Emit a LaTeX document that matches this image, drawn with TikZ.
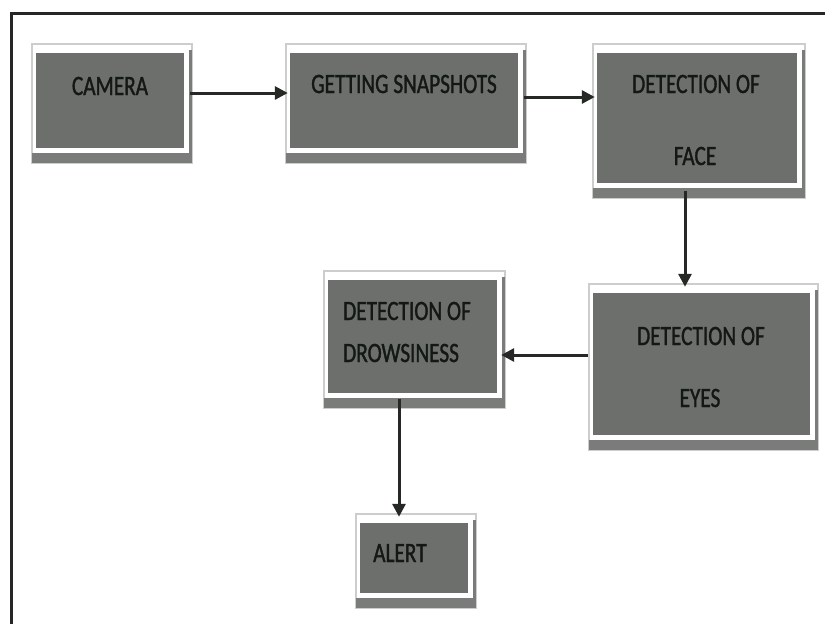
\documentclass[tikz,border=0pt]{standalone}
\usepackage{fontspec}
\usetikzlibrary{arrows.meta}
\newfontfamily\labelfont{Carlito}[FakeStretch=0.76,FakeBold=1.2]
\definecolor{boxgray}{HTML}{6C6F6C}
\definecolor{shadowgray}{HTML}{7A7C7A}
\definecolor{framegray}{HTML}{CDCDCD}
\definecolor{inkdark}{HTML}{141814}
\definecolor{arrowdark}{HTML}{262826}
\begin{document}
\begin{tikzpicture}[x=1pt,y=-1pt,
  stagebox/.style={draw=none, fill=boxgray, inner sep=0pt, rectangle},
  stagetext/.style={inner sep=0pt, text=inkdark, font=\labelfont\fontsize{28}{28}\selectfont},
  flow/.style={draw=arrowdark, line width=3pt, -{Triangle[length=13pt,width=13pt]}},
  outline/.style={draw=framegray, line width=1.5pt},
  edge/.style={draw=black!85, line width=3pt}]
\useasboundingbox (0,0) rectangle (825,624);

% page frame: top and left rules
\draw[edge] (10,13) -- (825,13);
\draw[edge] (11,13) -- (11,624);

% process stages
\node[stagebox, minimum width=148pt, minimum height=95pt]  (cam)   at (110,100.5) {};
\node[stagebox, minimum width=228pt, minimum height=95pt]  (snap)  at (404,100.5) {};
\node[stagebox, minimum width=200pt, minimum height=130pt] (face)  at (697,118)   {};
\node[stagebox, minimum width=217pt, minimum height=142pt] (eyes)  at (701.5,364) {};
\node[stagebox, minimum width=169pt, minimum height=113pt] (drow)  at (412.5,336.5) {};
\node[stagebox, minimum width=108pt, minimum height=70pt]  (alert) at (414,558)   {};

% light outer frame and drop shadow round each stage
\foreach \n in {cam,snap,face,eyes,drow,alert}{
  \draw[outline] ([shift={(-4pt,9pt)}]\n.north west) rectangle ([shift={(8pt,-15pt)}]\n.south east);
  \fill[shadowgray] ([shift={(-4pt,-5pt)}]\n.south west) rectangle ([shift={(8pt,-15pt)}]\n.south east);
  \fill[shadowgray] ([shift={(5pt,3pt)}]\n.north east) rectangle ([shift={(8pt,-15pt)}]\n.south east);
}

% stage labels
\node[stagetext, anchor=base] (camtext)  at (110,95)  {CAMERA};
\node[stagetext, anchor=base] (snaptext) at (404,93)  {GETTING SNAPSHOTS};
\node[stagetext, anchor=base] (facetop)  at (696,93)  {DETECTION OF};
\node[stagetext, anchor=base] (facebot)  at (695,165) {FACE};
\node[stagetext, anchor=base] (eyestop)  at (701,345) {DETECTION OF};
\node[stagetext, anchor=base] (eyesbot)  at (700,407) {EYES};
\node[stagetext, anchor=base west] (drowtop) at (343,320) {DETECTION OF};
\node[stagetext, anchor=base west] (drowbot) at (343,362) {DROWSINESS};
\node[stagetext, anchor=base west] (alerttext) at (373,562) {ALERT};

% flow between stages
\draw[flow] ([shift={(6pt,7.5pt)}]cam.east)    -- ([shift={(-2pt,7.5pt)}]snap.west);
\draw[flow] ([shift={(6pt,3.5pt)}]snap.east)   -- ([shift={(-2pt,21pt)}]face.west);
\draw[flow] ([shift={(-12pt,-8pt)}]face.south) -- ([shift={(-16.5pt,6pt)}]eyes.north);
\draw[flow] ([shift={(-5pt,9pt)}]eyes.west)    -- ([shift={(4pt,-18.5pt)}]drow.east);
\draw[flow] ([shift={(-13.5pt,-6pt)}]drow.south) -- ([shift={(-15pt,6pt)}]alert.north);
\end{tikzpicture}
\end{document}
